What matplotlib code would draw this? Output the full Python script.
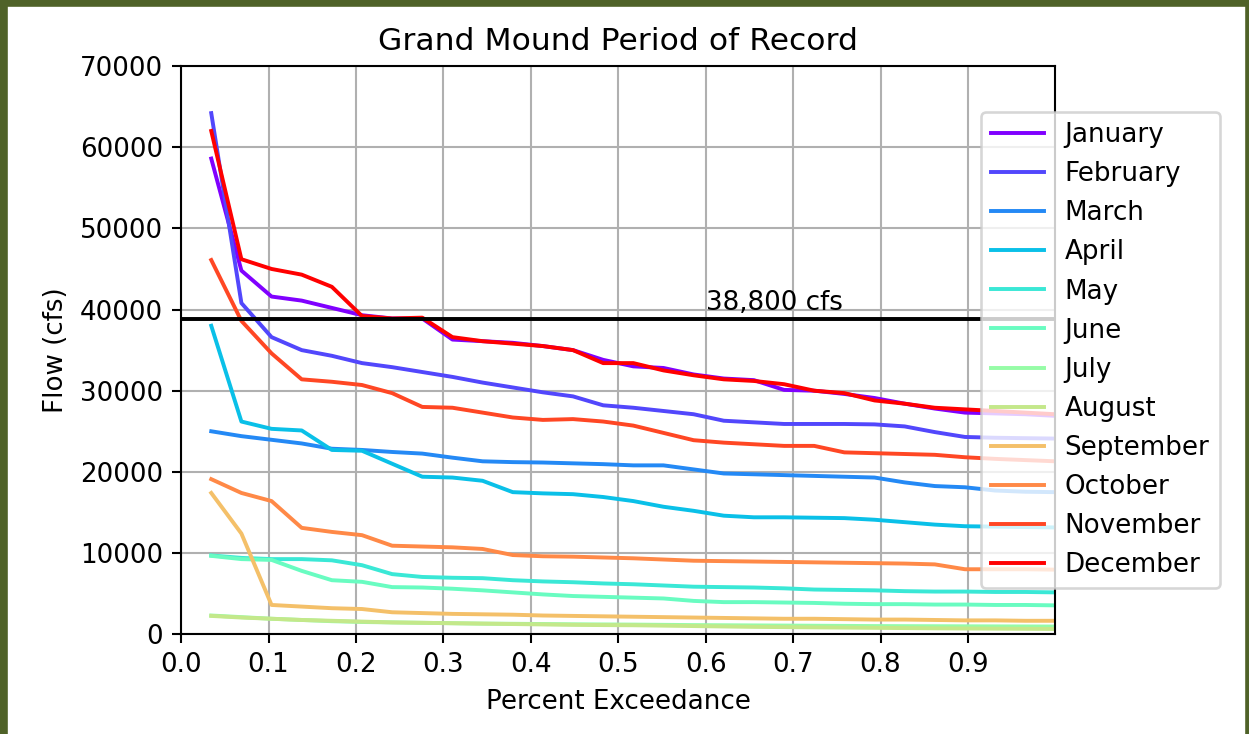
import numpy as np
import matplotlib
matplotlib.use("Agg")
import matplotlib.pyplot as plt

months = ["January", "February", "March", "April", "May", "June", "July",
          "August", "September", "October", "November", "December"]

# exceedance positions, rank/29
exceed = [i / 29 for i in range(1, 30)]

jan = [58600, 44800, 41600, 41100, 40200, 39300, 38900, 38900, 36300, 36100,
       35900, 35500, 35000, 33800, 33000, 32800, 32000, 31500, 31300, 30100,
       30000, 29600, 29100, 28400, 27800, 27300, 27200, 27100, 26900]
feb = [64200, 40800, 36600, 35000, 34300, 33400, 32900, 32300, 31700, 31000,
       30400, 29800, 29300, 28200, 27900, 27500, 27100, 26300, 26100, 25900,
       25900, 25900, 25850, 25600, 24900, 24300, 24200, 24150, 24100]
mar = [25000, 24400, 23950, 23500, 22850, 22700, 22450, 22250, 21750, 21300,
       21200, 21150, 21050, 20950, 20800, 20800, 20300, 19800, 19700, 19600,
       19500, 19400, 19300, 18700, 18250, 18100, 17700, 17550, 17500]
apr = [38000, 26200, 25300, 25100, 22700, 22600, 21000, 19400, 19300, 18900,
       17500, 17350, 17250, 16900, 16400, 15700, 15200, 14600, 14400, 14400,
       14350, 14300, 14100, 13800, 13500, 13300, 13250, 13200, 13150]
may = [9700, 9400, 9250, 9250, 9100, 8500, 7400, 7050, 6950, 6900,
       6650, 6500, 6400, 6250, 6150, 6000, 5850, 5800, 5750, 5650,
       5500, 5450, 5400, 5300, 5250, 5250, 5200, 5200, 5150]
jun = [9650, 9250, 9150, 7800, 6650, 6450, 5800, 5750, 5600, 5400,
       5150, 4900, 4700, 4600, 4500, 4400, 4100, 3950, 3950, 3900,
       3850, 3750, 3700, 3700, 3650, 3650, 3600, 3600, 3550]
jul = [2300, 2100, 1900, 1750, 1600, 1500, 1450, 1400, 1350, 1300,
       1280, 1250, 1220, 1200, 1180, 1150, 1120, 1100, 1080, 1060,
       1040, 1020, 1000, 990, 980, 970, 960, 950, 940]
aug = [2250, 2050, 1900, 1750, 1650, 1550, 1450, 1400, 1350, 1300,
       1250, 1200, 1150, 1120, 1100, 1050, 1000, 950, 900, 870,
       840, 810, 780, 750, 720, 700, 680, 660, 640]
sep = [17400, 12400, 3600, 3400, 3200, 3100, 2700, 2600, 2500, 2450,
       2400, 2300, 2250, 2200, 2150, 2100, 2050, 2000, 1950, 1900,
       1900, 1850, 1800, 1800, 1750, 1700, 1700, 1650, 1650]
oct_ = [19100, 17400, 16400, 13100, 12600, 12200, 10900, 10800, 10700, 10500,
        9750, 9600, 9550, 9450, 9350, 9200, 9050, 9000, 8950, 8900,
        8850, 8800, 8750, 8700, 8600, 8000, 8000, 8000, 7950]
nov = [46100, 38600, 34600, 31400, 31100, 30700, 29700, 28000, 27900, 27300,
       26700, 26400, 26500, 26200, 25700, 24800, 23900, 23600, 23400, 23200,
       23200, 22400, 22300, 22200, 22100, 21800, 21600, 21450, 21300]
dec = [62000, 46200, 45000, 44300, 42800, 39200, 38900, 39000, 36600, 36100,
       35800, 35500, 35000, 33400, 33400, 32500, 31900, 31400, 31200, 30800,
       30000, 29700, 28800, 28400, 27900, 27700, 27500, 27300, 27100]

flows = [jan, feb, mar, apr, may, jun, jul, aug, sep, oct_, nov, dec]
threshold = 38800

dpi = 188
fig = plt.figure(figsize=(1249 / dpi, 734 / dpi), dpi=dpi)
plt.subplots_adjust(left=0.145, right=0.845, bottom=0.136, top=0.91)

colors = plt.cm.rainbow(np.linspace(0, 1, 12))
for name, q, c in zip(months, flows, colors):
    plt.plot(exceed, q, color=c, label=name)

plt.axhline(threshold, color="black")
plt.text(0.6, 40000, "38,800 cfs")

plt.xlim(0, 1)
plt.ylim(0, 70000)
plt.xticks(np.arange(0, 1.0, 0.1))
plt.yticks(np.arange(0, 70001, 10000))
plt.grid(True)
plt.xlabel("Percent Exceedance")
plt.ylabel("Flow (cfs)")
plt.title("Grand Mound Period of Record")
plt.legend(loc="center left", bbox_to_anchor=(0.9, 0.5))

# olive frame around the picture
olive = "#4f6228"
fig.add_artist(plt.Rectangle((0, 1 - 5 / 734), 1, 5 / 734, color=olive,
                             transform=fig.transFigure))
fig.add_artist(plt.Rectangle((0, 0), 6 / 1249, 1, color=olive,
                             transform=fig.transFigure))
fig.add_artist(plt.Rectangle((1 - 3 / 1249, 0), 3 / 1249, 1, color=olive,
                             transform=fig.transFigure))

plt.savefig("out.png", dpi=dpi)
